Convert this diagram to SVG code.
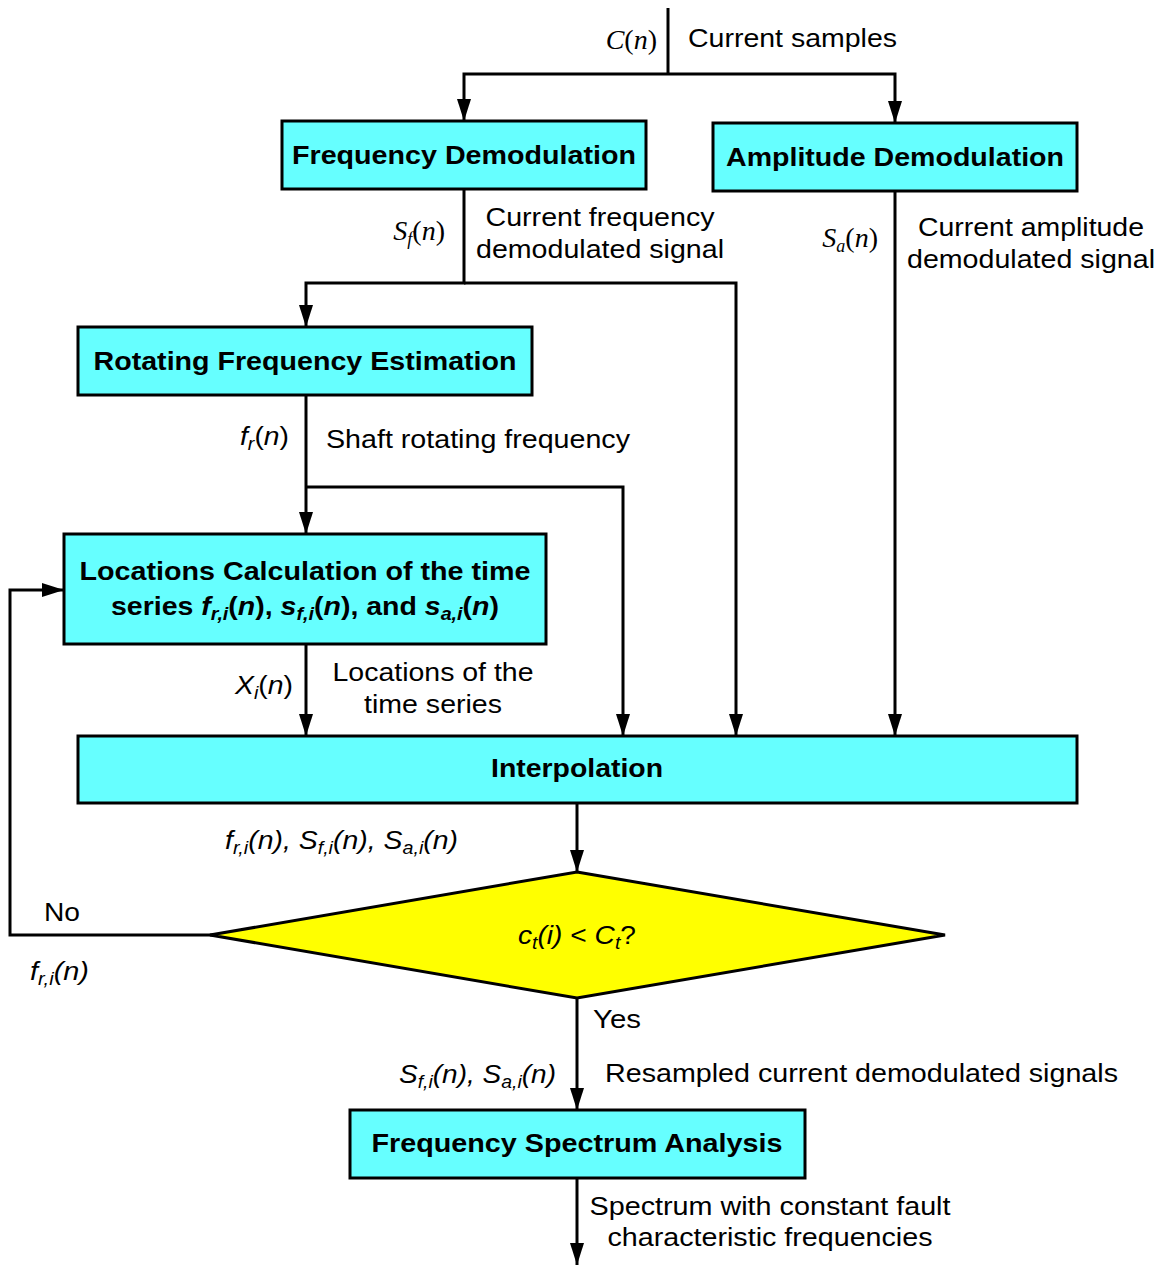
<svg xmlns="http://www.w3.org/2000/svg" width="1167" height="1266" viewBox="0 0 1167 1266">
  <style>
    .box { fill: #66FFFF; stroke: #000; stroke-width: 3; }
    .dec { fill: #FFFF00; stroke: #000; stroke-width: 3; }
    .ttl { font-family: "Liberation Sans", Arial, sans-serif; font-weight: bold; font-size: 26px; fill: #000; text-anchor: middle; }
    .lbl { font-family: "Liberation Sans", Arial, sans-serif; font-size: 26px; fill: #000; }
    .mid { text-anchor: middle; }
    .end { text-anchor: end; }
    .it { font-style: italic; }
    .tm { font-family: "Liberation Serif", "Times New Roman", serif; font-size: 28px; fill: #000; }
    .sub { font-size: 18px; }
    .wire { fill: none; stroke: #000; stroke-width: 3; }
    .arr { marker-end: url(#head); }
  </style>
  <defs>
    <marker id="head" viewBox="0 0 22 14" refX="22" refY="7" markerWidth="22" markerHeight="14" markerUnits="userSpaceOnUse" orient="auto">
      <path d="M0,0 L22,7 L0,14 Z" fill="#000"/>
    </marker>
  </defs>

  <rect width="1167" height="1266" fill="#fff"/>

  <!-- connectors -->
  <g id="connectors">
    <path class="wire" d="M668,8 V74"/>
    <path class="wire arr" d="M668,74 H464 V121"/>
    <path class="wire arr" d="M668,74 H895 V123"/>
    <path class="wire arr" d="M464,189 V283 H306 V327"/>
    <path class="wire arr" d="M464,283 H736 V736"/>
    <path class="wire arr" d="M895,191 V736"/>
    <path class="wire arr" d="M306,395 V534"/>
    <path class="wire arr" d="M306,487 H623 V736"/>
    <path class="wire arr" d="M306,644 V736"/>
    <path class="wire arr" d="M577,803 V872"/>
    <path class="wire arr" d="M212,935 H10 V590 H64"/>
    <path class="wire arr" d="M577,998 V1110"/>
    <path class="wire arr" d="M577,1178 V1265"/>
  </g>

  <!-- connector labels -->
  <g id="labels">
    <text class="tm" x="657" y="49" text-anchor="end"><tspan class="it">C</tspan>(<tspan class="it">n</tspan>)</text>
    <text class="lbl" x="688" y="47" textLength="209" lengthAdjust="spacingAndGlyphs">Current samples</text>

    <text class="tm" x="445" y="240" text-anchor="end"><tspan class="it">S</tspan><tspan class="it sub" dy="5">f</tspan><tspan dy="-5">(</tspan><tspan class="it">n</tspan>)</text>
    <text class="lbl mid" x="600" y="226" textLength="229" lengthAdjust="spacingAndGlyphs">Current frequency</text>
    <text class="lbl mid" x="600" y="258" textLength="248" lengthAdjust="spacingAndGlyphs">demodulated signal</text>

    <text class="tm" x="878" y="247" text-anchor="end"><tspan class="it">S</tspan><tspan class="it sub" dy="5">a</tspan><tspan dy="-5">(</tspan><tspan class="it">n</tspan>)</text>
    <text class="lbl mid" x="1031" y="236" textLength="226" lengthAdjust="spacingAndGlyphs">Current amplitude</text>
    <text class="lbl mid" x="1031" y="268" textLength="248" lengthAdjust="spacingAndGlyphs">demodulated signal</text>

    <text class="lbl" x="240" y="445" textLength="49" lengthAdjust="spacingAndGlyphs"><tspan class="it">f</tspan><tspan class="it sub" dy="5">r</tspan><tspan dy="-5">(</tspan><tspan class="it">n</tspan>)</text>
    <text class="lbl" x="326" y="448" textLength="304" lengthAdjust="spacingAndGlyphs">Shaft rotating frequency</text>

    <text class="lbl" x="235" y="694" textLength="58" lengthAdjust="spacingAndGlyphs"><tspan class="it">X</tspan><tspan class="it sub" dy="5">i</tspan><tspan dy="-5">(</tspan><tspan class="it">n</tspan>)</text>
    <text class="lbl mid" x="433" y="681" textLength="201" lengthAdjust="spacingAndGlyphs">Locations of the</text>
    <text class="lbl mid" x="433" y="713" textLength="138" lengthAdjust="spacingAndGlyphs">time series</text>

    <text class="lbl it" x="225" y="849" textLength="233" lengthAdjust="spacingAndGlyphs">f<tspan class="sub" dy="5">r,i</tspan><tspan dy="-5">(n), S</tspan><tspan class="sub" dy="5">f,i</tspan><tspan dy="-5">(n), S</tspan><tspan class="sub" dy="5">a,i</tspan><tspan dy="-5">(n)</tspan></text>

    <text class="lbl" x="44" y="921" textLength="36" lengthAdjust="spacingAndGlyphs">No</text>
    <text class="lbl it" x="30" y="980" textLength="59" lengthAdjust="spacingAndGlyphs">f<tspan class="sub" dy="5">r,i</tspan><tspan dy="-5">(n)</tspan></text>

    <text class="lbl" x="593" y="1028" textLength="48" lengthAdjust="spacingAndGlyphs">Yes</text>
    <text class="lbl it" x="399" y="1083" textLength="157" lengthAdjust="spacingAndGlyphs">S<tspan class="sub" dy="5">f,i</tspan><tspan dy="-5">(n), S</tspan><tspan class="sub" dy="5">a,i</tspan><tspan dy="-5">(n)</tspan></text>
    <text class="lbl" x="605" y="1082" textLength="513" lengthAdjust="spacingAndGlyphs">Resampled current demodulated signals</text>

    <text class="lbl mid" x="770" y="1215" textLength="361" lengthAdjust="spacingAndGlyphs">Spectrum with constant fault</text>
    <text class="lbl mid" x="770" y="1246" textLength="325" lengthAdjust="spacingAndGlyphs">characteristic frequencies</text>
  </g>

  <!-- nodes -->
  <g id="freq-demod">
    <rect class="box" x="282" y="121" width="364" height="68"/>
    <text class="ttl" x="464" y="164" textLength="344" lengthAdjust="spacingAndGlyphs">Frequency Demodulation</text>
  </g>
  <g id="amp-demod">
    <rect class="box" x="713" y="123" width="364" height="68"/>
    <text class="ttl" x="895" y="166" textLength="338" lengthAdjust="spacingAndGlyphs">Amplitude Demodulation</text>
  </g>
  <g id="rot-freq-est">
    <rect class="box" x="78" y="327" width="454" height="68"/>
    <text class="ttl" x="305" y="370" textLength="423" lengthAdjust="spacingAndGlyphs">Rotating Frequency Estimation</text>
  </g>
  <g id="locations-calc">
    <rect class="box" x="64" y="534" width="482" height="110"/>
    <text class="ttl" x="305" y="580" textLength="451" lengthAdjust="spacingAndGlyphs">Locations Calculation of the time</text>
    <text class="ttl" x="305" y="615" textLength="388" lengthAdjust="spacingAndGlyphs">series <tspan class="it">f</tspan><tspan class="it sub" dy="5">r,i</tspan><tspan dy="-5">(</tspan><tspan class="it">n</tspan>), <tspan class="it">s</tspan><tspan class="it sub" dy="5">f,i</tspan><tspan dy="-5">(</tspan><tspan class="it">n</tspan>), and <tspan class="it">s</tspan><tspan class="it sub" dy="5">a,i</tspan><tspan dy="-5">(</tspan><tspan class="it">n</tspan>)</text>
  </g>
  <g id="interpolation">
    <rect class="box" x="78" y="736" width="999" height="67"/>
    <text class="ttl" x="577" y="777" textLength="172" lengthAdjust="spacingAndGlyphs">Interpolation</text>
  </g>
  <g id="decision">
    <polygon class="dec" points="577,872 945,935 577,998 210,935"/>
    <text class="lbl it" x="518" y="944" textLength="118" lengthAdjust="spacingAndGlyphs">c<tspan class="sub" dy="5">t</tspan><tspan dy="-5">(i)</tspan><tspan font-style="normal"> &lt; </tspan>C<tspan class="sub" dy="5">t</tspan><tspan dy="-5" font-style="normal">?</tspan></text>
  </g>
  <g id="spectrum-analysis">
    <rect class="box" x="350" y="1110" width="455" height="68"/>
    <text class="ttl" x="577" y="1152" textLength="411" lengthAdjust="spacingAndGlyphs">Frequency Spectrum Analysis</text>
  </g>
</svg>
